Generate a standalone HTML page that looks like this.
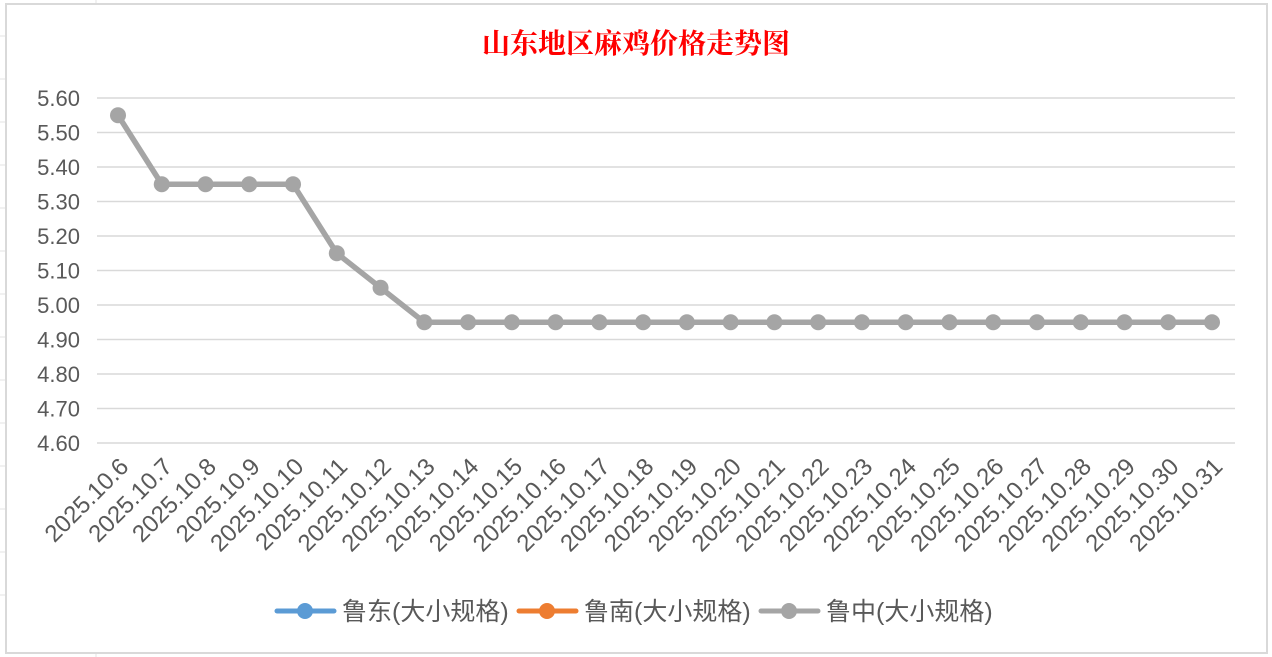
<!DOCTYPE html>
<html><head><meta charset="utf-8"><style>
html,body{margin:0;padding:0;background:#fff;}
svg{display:block;}
text{font-family:"Liberation Sans","Noto Sans CJK SC",sans-serif;}
</style></head><body>
<svg id="s" width="1272" height="657" xmlns="http://www.w3.org/2000/svg">
<rect x="0" y="0" width="1272" height="657" fill="#fff"/>
<g stroke="#e3e3e3" stroke-width="1">
<line x1="96" y1="0" x2="96" y2="4"/><line x1="0" y1="36" x2="6" y2="36"/><line x1="0" y1="79" x2="6" y2="79"/>
<line x1="0" y1="122" x2="6" y2="122"/><line x1="0" y1="165" x2="6" y2="165"/><line x1="0" y1="208" x2="6" y2="208"/>
<line x1="0" y1="251" x2="6" y2="251"/><line x1="0" y1="294" x2="6" y2="294"/><line x1="0" y1="337" x2="6" y2="337"/>
<line x1="0" y1="380" x2="6" y2="380"/><line x1="0" y1="423" x2="6" y2="423"/><line x1="0" y1="466" x2="6" y2="466"/>
<line x1="0" y1="509" x2="6" y2="509"/><line x1="0" y1="552" x2="6" y2="552"/><line x1="0" y1="595" x2="6" y2="595"/>
<line x1="96" y1="653" x2="96" y2="657"/>
</g>
<rect x="6" y="4" width="1261" height="649" fill="#fff" stroke="#d9d9d9" stroke-width="2"/>
<text x="636" y="53" text-anchor="middle" fill="#ff0000" font-size="28" font-weight="bold" style="font-family:'Liberation Serif','Noto Serif CJK SC',serif">山东地区麻鸡价格走势图</text>
<g id="grid"></g>
<g id="ylab" fill="#595959" font-size="22"></g>
<g id="xlab" fill="#595959" font-size="24"></g>
<polyline id="ln" fill="none" stroke="#a5a5a5" stroke-width="5.5" stroke-linejoin="round"/>
<g id="pts" fill="#a5a5a5"></g>
<g font-size="25" fill="#595959">
<line x1="277" y1="611" x2="334" y2="611" stroke="#5b9bd5" stroke-width="5" stroke-linecap="round"/><circle cx="305" cy="611" r="8" fill="#5b9bd5"/>
<text x="342" y="620">鲁东(大小规格)</text>
<line x1="519" y1="611" x2="576" y2="611" stroke="#ed7d31" stroke-width="5" stroke-linecap="round"/><circle cx="547" cy="611" r="8" fill="#ed7d31"/>
<text x="584" y="620">鲁南(大小规格)</text>
<line x1="761" y1="611" x2="818" y2="611" stroke="#a5a5a5" stroke-width="5" stroke-linecap="round"/><circle cx="789" cy="611" r="8" fill="#a5a5a5"/>
<text x="826" y="620">鲁中(大小规格)</text>
</g>
</svg>
<script>
var NS="http://www.w3.org/2000/svg";
function el(t,a,p,txt){var e=document.createElementNS(NS,t);for(var k in a)e.setAttribute(k,a[k]);if(txt)e.textContent=txt;document.getElementById(p).appendChild(e);}
for(var i=0;i<=10;i++){var v=4.6+i*0.1,y=443-i*34.5;
el("line",{x1:97,x2:1235,y1:y,y2:y,stroke:"#d9d9d9","stroke-width":1.5},"grid");
el("text",{x:80,y:y+8,"text-anchor":"end"},"ylab",v.toFixed(2));}
var vals=[5.55,5.35,5.35,5.35,5.35,5.15,5.05];while(vals.length<26)vals.push(4.95);
var pts=[];
for(var i=0;i<26;i++){var x=118+i*43.76,y=443-(vals[i]-4.6)*345;pts.push(x+","+y);
el("circle",{cx:x,cy:y,r:8},"pts");
el("text",{x:x+12,y:468,"text-anchor":"end",transform:"rotate(-45 "+(x+12)+" 468)"},"xlab","2025.10."+(6+i));}
document.getElementById("ln").setAttribute("points",pts.join(" "));
</script>
</body></html>
